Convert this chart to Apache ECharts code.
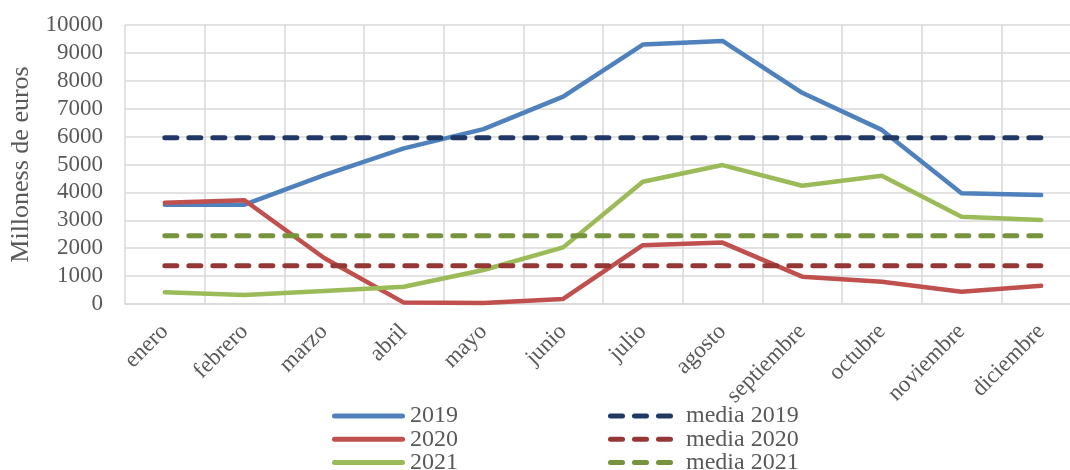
<!DOCTYPE html>
<html>
<head>
<meta charset="utf-8">
<script src="https://cdn.jsdelivr.net/npm/echarts@6/dist/echarts.min.js"></script>
<style>
  html, body { margin: 0; padding: 0; background: #fff; }
  #chart { width: 1070px; height: 470px; }
</style>
</head>
<body>
<div id="chart"></div>
<script>
const months = ['enero', 'febrero', 'marzo', 'abril', 'mayo', 'junio', 'julio',
  'agosto', 'septiembre', 'octubre', 'noviembre', 'diciembre']

const v2019 = [3560, 3560, 4620, 5580, 6270, 7430, 9300, 9430, 7570, 6240, 3970, 3910]
const v2020 = [3630, 3720, 1650, 50, 40, 180, 2110, 2200, 980, 800, 440, 650]
const v2021 = [420, 320, 470, 620, 1220, 2030, 4380, 4980, 4240, 4600, 3130, 3010]

const media2019 = [5960, 5960, 5960, 5960, 5960, 5960, 5960, 5960, 5960, 5960, 5960, 5960]
const media2020 = [1370, 1370, 1370, 1370, 1370, 1370, 1370, 1370, 1370, 1370, 1370, 1370]
const media2021 = [2450, 2450, 2450, 2450, 2450, 2450, 2450, 2450, 2450, 2450, 2450, 2450]

const font = 'Liberation Serif'
const textColor = '#595959'
const gridColor = '#D9D9D9'

// legend icons: a rounded bar, and three rounded dashes
const solidIcon = 'path://M2.5,0H70.5A2.5,2.5,0,0,1,70.5,5H2.5A2.5,2.5,0,0,1,2.5,0Z'
const dashIcon = 'path://M2.5,0H14.5A2.5,2.5,0,0,1,14.5,5H2.5A2.5,2.5,0,0,1,2.5,0Z' +
  'M26.5,0H38.5A2.5,2.5,0,0,1,38.5,5H26.5A2.5,2.5,0,0,1,26.5,0Z' +
  'M50.5,0H62.5A2.5,2.5,0,0,1,62.5,5H50.5A2.5,2.5,0,0,1,50.5,0Z'

function solid(name, color, data) {
  return {
    name: name,
    type: 'line',
    data: data,
    symbol: 'none',
    lineStyle: { color: color, width: 4.5, cap: 'round', join: 'round' },
    itemStyle: { color: color },
    emphasis: { disabled: true }
  }
}

function dashed(name, color, data) {
  return {
    name: name,
    type: 'line',
    data: data,
    symbol: 'none',
    lineStyle: { color: color, width: 5, type: [12, 12], cap: 'round' },
    itemStyle: { color: color },
    emphasis: { disabled: true }
  }
}

const chart = echarts.init(document.getElementById('chart'))

chart.setOption({
  animation: false,
  textStyle: { fontFamily: font },
  // the plot area runs past the right edge of the picture
  grid: { left: 125, top: 25, width: 956, height: 279, outerBoundsMode: 'none', containLabel: false },
  legend: [
    {
      orient: 'vertical',
      left: 327,
      top: 399,
      height: 80,
      icon: solidIcon,
      itemWidth: 73,
      itemHeight: 5,
      itemGap: -0.7,
      selectedMode: false,
      textStyle: { fontFamily: font, fontSize: 24, color: textColor },
      data: ['2019', '2020', '2021']
    },
    {
      orient: 'vertical',
      left: 603,
      top: 399,
      height: 80,
      icon: dashIcon,
      itemWidth: 65,
      itemHeight: 5,
      itemGap: -0.7,
      selectedMode: false,
      textStyle: { fontFamily: font, fontSize: 24, color: textColor, padding: [0, 0, 0, 8] },
      data: ['media 2019', 'media 2020', 'media 2021']
    }
  ],
  xAxis: {
    type: 'category',
    data: months,
    boundaryGap: true,
    axisLine: { lineStyle: { color: gridColor, width: 1.5 } },
    axisTick: { show: false },
    splitLine: { show: true, lineStyle: { color: gridColor, width: 1.5 } },
    axisLabel: {
      rotate: 45,
      interval: 0,
      margin: 24,
      fontFamily: font,
      fontSize: 23,
      color: textColor
    }
  },
  yAxis: {
    type: 'value',
    min: 0,
    max: 10000,
    interval: 1000,
    name: 'Milloness de euros',
    nameLocation: 'middle',
    nameGap: 91,
    nameTextStyle: { fontFamily: font, fontSize: 26, color: textColor },
    axisLine: { show: false },
    axisTick: { show: false },
    splitLine: { lineStyle: { color: gridColor, width: 1.5 } },
    axisLabel: {
      margin: 22,
      fontFamily: font,
      fontSize: 23,
      color: textColor,
      formatter: function (v) { return String(v) }
    }
  },
  series: [
    solid('2019', '#4F81BD', v2019),
    solid('2020', '#C0504D', v2020),
    solid('2021', '#9BBB59', v2021),
    dashed('media 2019', '#1F3864', media2019),
    dashed('media 2020', '#953735', media2020),
    dashed('media 2021', '#77933C', media2021)
  ]
})
</script>
</body>
</html>
